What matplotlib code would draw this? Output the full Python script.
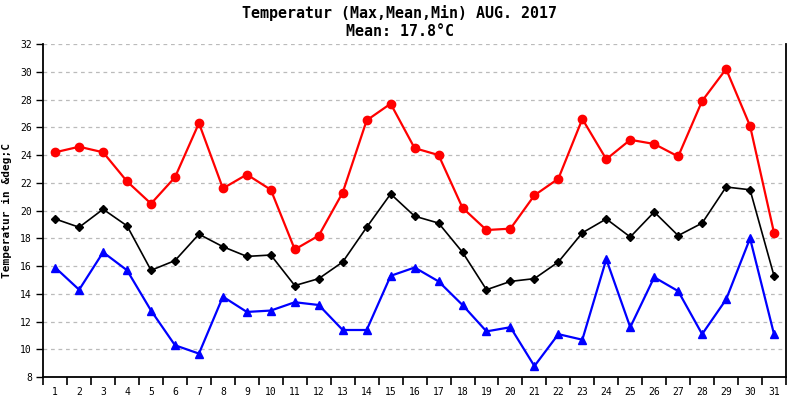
import matplotlib
matplotlib.use("Agg")
import matplotlib.pyplot as plt
import numpy as np

# Tage im August 2017
days = list(range(1, 32))

# Werte
t_max = [24.2, 24.6, 24.2, 22.1, 20.5, 22.4, 26.3, 21.6, 22.6, 21.5,
         17.2, 18.2, 21.3, 26.5, 27.7, 24.5, 24.0, 20.2, 18.6, 18.7,
         21.1, 22.3, 26.6, 23.7, 25.1, 24.8, 23.9, 27.9, 30.2, 26.1, 18.4]
t_mean = [19.4, 18.8, 20.1, 18.9, 15.7, 16.4, 18.3, 17.4, 16.7, 16.8,
          14.6, 15.1, 16.3, 18.8, 21.2, 19.6, 19.1, 17.0, 14.3, 14.9,
          15.1, 16.3, 18.4, 19.4, 18.1, 19.9, 18.2, 19.1, 21.7, 21.5, 15.3]
t_min = [15.9, 14.3, 17.0, 15.7, 12.8, 10.3, 9.7, 13.8, 12.7, 12.8,
         13.4, 13.2, 11.4, 11.4, 15.3, 15.9, 14.9, 13.2, 11.3, 11.6,
         8.8, 11.1, 10.7, 16.5, 11.6, 15.2, 14.2, 11.1, 13.6, 18.0, 11.1]
y_ticks = list(range(8, 33, 2))

fig = plt.figure(figsize=(8, 4), dpi=100)
ax = fig.add_axes([0.054, 0.057, 0.9285, 0.833])

ax.plot(days, t_max, c='red', lw=1.6, marker='o', ms=6)
ax.plot(days, t_mean, c='black', lw=1.2, marker='D', ms=4.5)
ax.plot(days, t_min, c='blue', lw=1.6, marker='^', ms=6)

ax.set_xlim(0.5, 31.5)
ax.set_ylim(8, 32)
ax.set_yticks(y_ticks)
ax.set_xticks(days)
ax.set_xticks(np.arange(0.5, 32, 1), minor=True)
ax.tick_params(axis='x', which='major', length=0, pad=7, labelsize=7)
ax.tick_params(axis='x', which='minor', length=6, width=1.2, direction='out')
ax.tick_params(axis='y', length=5, width=1, labelsize=7, pad=3)
for lab in ax.get_xticklabels() + ax.get_yticklabels():
    lab.set_family('DejaVu Sans Mono')

ax.grid(axis='y', ls=(0, (3, 3)), c='#bbbbbb', lw=0.9)
ax.spines['top'].set_visible(False)
for s in ['left', 'bottom', 'right']:
    ax.spines[s].set_linewidth(1.3)

ax.set_ylabel('Temperatur in &deg;C', fontsize=8, fontweight='bold',
              family='DejaVu Sans Mono')
ax.yaxis.set_label_coords(-0.042, 0.5)

fig.text(0.5, 0.967, 'Temperatur (Max,Mean,Min) AUG. 2017', ha='center', va='center',
         fontsize=10.8, fontweight='bold', family='DejaVu Sans Mono')
fig.text(0.5, 0.922, 'Mean: 17.8°C', ha='center', va='center',
         fontsize=10.8, fontweight='bold', family='DejaVu Sans Mono')

fig.savefig('out.png', dpi=100)
